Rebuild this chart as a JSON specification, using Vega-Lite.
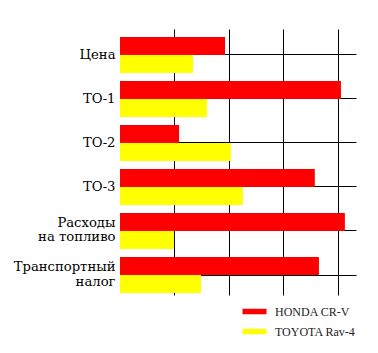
{
  "$schema": "https://vega.github.io/schema/vega-lite/v6.json",
  "width": 236,
  "height": 266,
  "autosize": "none",
  "padding": {"left": 120, "top": 29, "right": 22, "bottom": 58},
  "background": "white",
  "data": {
    "values": [
      {"category": "Цена", "car": "HONDA CR-V", "value": 48.2},
      {"category": "Цена", "car": "TOYOTA Rav-4", "value": 33.5},
      {"category": "ТО-1", "car": "HONDA CR-V", "value": 101.4},
      {"category": "ТО-1", "car": "TOYOTA Rav-4", "value": 39.9},
      {"category": "ТО-2", "car": "HONDA CR-V", "value": 27.1},
      {"category": "ТО-2", "car": "TOYOTA Rav-4", "value": 50.9},
      {"category": "ТО-3", "car": "HONDA CR-V", "value": 89.4},
      {"category": "ТО-3", "car": "TOYOTA Rav-4", "value": 56.4},
      {"category": "Расходы на топливо", "car": "HONDA CR-V", "value": 103.2},
      {"category": "Расходы на топливо", "car": "TOYOTA Rav-4", "value": 24.8},
      {"category": "Транспортный налог", "car": "HONDA CR-V", "value": 91.3},
      {"category": "Транспортный налог", "car": "TOYOTA Rav-4", "value": 37.2}
    ]
  },
  "mark": {"type": "bar"},
  "encoding": {
    "y": {
      "field": "category",
      "type": "nominal",
      "sort": null,
      "scale": {"paddingInner": 0.1818, "paddingOuter": 0.1136, "align": 0.8},
      "axis": {
        "title": null,
        "grid": true,
        "gridColor": "black",
        "gridOpacity": 1,
        "gridWidth": 1,
        "bandPosition": 0.5,
        "domain": false,
        "ticks": false,
        "labelFont": "DejaVu Serif",
        "labelFontSize": 13.2,
        "labelColor": "black",
        "labelPadding": 5,
        "labelLimit": 0,
        "labelLineHeight": 14.5,
        "labelOffset": {"condition": {"test": "indexof(datum.value, ' ') >= 0", "value": -8}, "value": 0},
        "labelExpr": "datum.value == 'Расходы на топливо' ? ['Расходы', 'на топливо'] : datum.value == 'Транспортный налог' ? ['Транспортный', 'налог'] : datum.value"
      }
    },
    "yOffset": {
      "field": "car",
      "type": "nominal",
      "sort": null,
      "scale": {"paddingInner": 0, "paddingOuter": 0}
    },
    "x": {
      "field": "value",
      "type": "quantitative",
      "scale": {"domain": [0, 108.3], "nice": false, "zero": true},
      "axis": {
        "values": [25, 50, 75, 100],
        "grid": true,
        "gridColor": "black",
        "gridOpacity": 1,
        "gridWidth": 1,
        "domain": false,
        "ticks": false,
        "labels": false,
        "title": null
      }
    },
    "color": {
      "field": "car",
      "type": "nominal",
      "sort": null,
      "scale": {"domain": ["HONDA CR-V", "TOYOTA Rav-4"], "range": ["#ff0000", "#ffff00"]},
      "legend": {
        "title": null,
        "orient": "none",
        "legendX": 128.5,
        "legendY": 276.5,
        "padding": 0,
        "symbolType": "M-2.18,-0.5H2.18V0.5H-2.18Z",
        "symbolSize": 121,
        "symbolStrokeWidth": 0,
        "symbolOpacity": 1,
        "labelFont": "Liberation Serif",
        "labelFontSize": 12,
        "labelColor": "#222222",
        "labelOffset": 14.5,
        "rowPadding": 8
      }
    }
  },
  "config": {
    "view": {"stroke": null}
  }
}
